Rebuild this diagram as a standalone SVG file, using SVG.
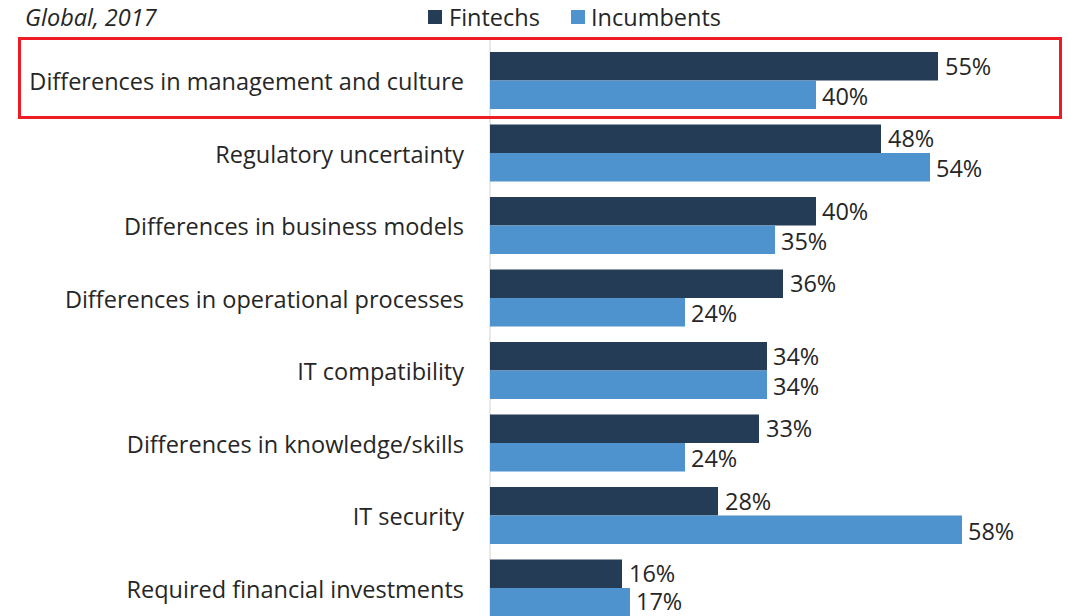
<svg xmlns="http://www.w3.org/2000/svg" width="1068" height="616" viewBox="0 0 1068 616">
<style>
text{font-family:"Open Sans","Liberation Sans",sans-serif;fill:#262626;font-size:23.5px}
.cat{text-anchor:end}
.f{fill:#243c56}
.i{fill:#4e92ce}
</style>
<rect width="1068" height="616" fill="#fff"/>
<text x="25" y="26" font-style="italic" font-size="25.5">Global, 2017</text>
<g id="legend">
<rect x="428" y="10" width="14" height="14" class="f"/>
<text x="449" y="26">Fintechs</text>
<rect x="571" y="10" width="14" height="14" class="i"/>
<text x="591" y="26">Incumbents</text>
</g>
<line x1="490" y1="40" x2="490" y2="616" stroke="#e0e0e0" stroke-width="1.5"/>
<g id="bars">
<g id="r1"><text class="cat" x="464" y="90">Differences in management and culture</text>
<rect x="490" y="52" width="448" height="28.5" class="f"/><text x="945" y="75">55%</text>
<rect x="490" y="80.5" width="326" height="28.5" class="i"/><text x="822" y="105">40%</text></g>
<g id="r2"><text class="cat" x="464" y="163">Regulatory uncertainty</text>
<rect x="490" y="124.5" width="391" height="28.5" class="f"/><text x="888" y="147">48%</text>
<rect x="490" y="153" width="440" height="28.5" class="i"/><text x="936" y="177">54%</text></g>
<g id="r3"><text class="cat" x="464" y="235">Differences in business models</text>
<rect x="490" y="197" width="326" height="28.5" class="f"/><text x="822" y="220">40%</text>
<rect x="490" y="225.5" width="285" height="28.5" class="i"/><text x="781" y="250">35%</text></g>
<g id="r4"><text class="cat" x="464" y="308">Differences in operational processes</text>
<rect x="490" y="269.5" width="293" height="28.5" class="f"/><text x="790" y="292">36%</text>
<rect x="490" y="298" width="195" height="28.5" class="i"/><text x="691" y="322">24%</text></g>
<g id="r5"><text class="cat" x="464" y="380">IT compatibility</text>
<rect x="490" y="342" width="277" height="28.5" class="f"/><text x="773" y="365">34%</text>
<rect x="490" y="370.5" width="277" height="28.5" class="i"/><text x="773" y="395">34%</text></g>
<g id="r6"><text class="cat" x="464" y="453">Differences in knowledge/skills</text>
<rect x="490" y="414.5" width="269" height="28.5" class="f"/><text x="766" y="437">33%</text>
<rect x="490" y="443" width="195" height="28.5" class="i"/><text x="691" y="467">24%</text></g>
<g id="r7"><text class="cat" x="464" y="525">IT security</text>
<rect x="490" y="487" width="228" height="28.5" class="f"/><text x="725" y="510">28%</text>
<rect x="490" y="515.5" width="472" height="28.5" class="i"/><text x="968" y="540">58%</text></g>
<g id="r8"><text class="cat" x="464" y="598">Required financial investments</text>
<rect x="490" y="559.5" width="132" height="28.5" class="f"/><text x="629" y="582">16%</text>
<rect x="490" y="588" width="140" height="28" class="i"/><text x="636" y="610">17%</text></g>
</g>
<rect x="19.5" y="38.5" width="1041" height="79" fill="none" stroke="#ee1c24" stroke-width="3"/>
</svg>
